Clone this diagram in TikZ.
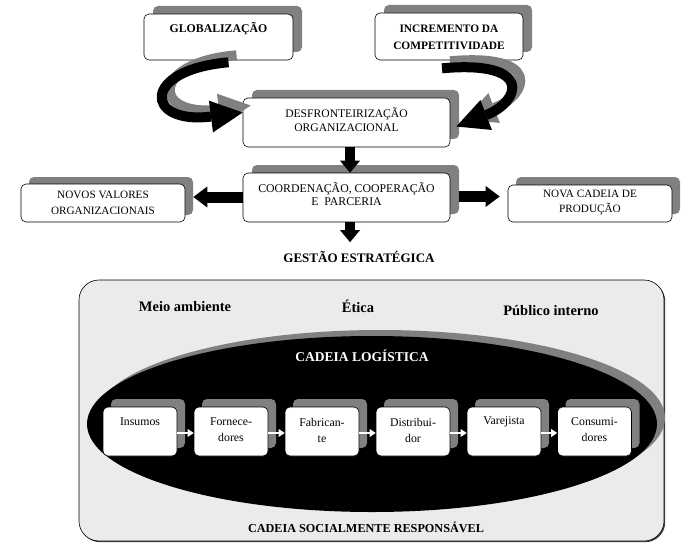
\documentclass[tikz,border=0pt]{standalone}
\usepackage{fontspec}
\setmainfont{Liberation Serif}
\usetikzlibrary{arrows.meta,shadows,calc,shapes.geometric}
\definecolor{shgray}{HTML}{808080}
\definecolor{panelgray}{HTML}{EBEBEB}
\begin{document}
\begin{tikzpicture}[x=1pt,y=-1pt,
  box/.style={draw=black, line width=0.6pt, rounded corners=5pt, fill=white, inner sep=0pt},
  topshadow/.style={drop shadow={shadow xshift=9pt, shadow yshift=8pt, fill=shgray, opacity=1}},
  chainshadow/.style={drop shadow={shadow xshift=8pt, shadow yshift=8pt, fill=shgray, opacity=1}},
  chainbox/.style={box, chainshadow, minimum width=74pt, minimum height=49pt},
  boldtitle/.style={font=\fontsize{11.8}{16}\selectfont\bfseries, align=center, inner sep=0pt},
  plaintxt/.style={font=\fontsize{11.6}{14}\selectfont, align=center, inner sep=0pt},
  smalltxt/.style={font=\fontsize{11.2}{15.5}\selectfont, align=center, inner sep=0pt},
  chaintxt/.style={font=\fontsize{11.8}{16}\selectfont, align=center, inner sep=0pt},
  blockarrow/.style={line width=10pt, -{Triangle[length=12pt,width=20pt,line width=0pt]}},
  sidearrow/.style={line width=11pt, -{Triangle[length=14pt,width=21pt,line width=0pt]}},
  curvearrow/.style={line width=10pt, -{Triangle[length=32pt,width=32pt,line width=0pt]}},
  whitearrow/.style={white, line width=2pt, -{Triangle[length=6pt,width=8pt,line width=0pt]}},
]
\useasboundingbox (0,0) rectangle (700,548);

% top boxes
\node[box, topshadow, minimum width=149pt, minimum height=46pt] (glob) at (218.5,37) {};
\node[boldtitle] (globt) at (218.5,29) {GLOBALIZAÇÃO};
\node[box, topshadow, minimum width=148pt, minimum height=47pt] (incr) at (449,36.5) {};
\node[boldtitle, font=\fontsize{11.4}{17}\selectfont\bfseries] (incrt) at (449,37) {INCREMENTO DA\\COMPETITIVIDADE};
\node[box, topshadow, minimum width=207pt, minimum height=49pt] (desf) at (346.5,122.5) {};
\node[plaintxt] (desft) at (346.5,120) {DESFRONTEIRIZAÇÃO\\ORGANIZACIONAL};

% curved arrows (shadow first)
\begin{scope}[transform canvas={xshift=8pt,yshift=7pt}]
\draw[shgray, curvearrow] ([xshift=10pt,yshift=-2pt]glob.south) .. controls (140,70) and (145,125) .. ([yshift=10pt]desf.west);
\draw[shgray, curvearrow] ([xshift=-7pt,yshift=-8pt]incr.south) .. controls (535,60) and (520,102) .. ([xshift=6pt,yshift=-4pt]desf.east);
\end{scope}
\draw[curvearrow] ([xshift=10pt,yshift=-2pt]glob.south) .. controls (140,70) and (145,125) .. ([yshift=10pt]desf.west);
\draw[curvearrow] ([xshift=-7pt,yshift=-8pt]incr.south) .. controls (535,60) and (520,102) .. ([xshift=6pt,yshift=-4pt]desf.east);

% middle row
\node[box, topshadow, minimum width=207pt, minimum height=49pt] (coord) at (346.5,197.5) {};
\node[plaintxt, font=\fontsize{11.8}{13.5}\selectfont] (coordt) at (346.5,194) {COORDENAÇÃO, COOPERAÇÃO\\E~~PARCERIA};
\node[box, drop shadow={shadow xshift=8pt, shadow yshift=7pt, fill=shgray, opacity=1}, minimum width=164pt, minimum height=38pt] (novos) at (103,203) {};
\node[smalltxt] (novost) at (103,203) {NOVOS VALORES\\ORGANIZACIONAIS};
\node[box, drop shadow={shadow xshift=8pt, shadow yshift=8pt, fill=shgray, opacity=1}, minimum width=164pt, minimum height=37pt] (nova) at (590,203.5) {};
\node[smalltxt] (novat) at (590,202.5) {NOVA CADEIA DE\\PRODUÇÃO};

\draw[blockarrow] ([xshift=3.5pt]desf.south) -- ([xshift=3.5pt]coord.north);
\draw[sidearrow] ([yshift=0.5pt]coord.west) -- ([xshift=8pt,yshift=0.5pt]novos.east |- coord.west);
\draw[sidearrow] ([xshift=9pt,yshift=1pt]coord.east) -- ([xshift=-8pt,yshift=1pt]nova.west |- coord.east);

\node[font=\fontsize{13}{15}\selectfont\bfseries, inner sep=0pt] (gestao) at (359,257) {GESTÃO ESTRATÉGICA};
\draw[blockarrow] ([xshift=3.5pt]coord.south) -- ([xshift=3.5pt,yshift=9pt]coord.south |- gestao.north);

% lower panel
\node[draw=black, line width=0.6pt, rounded corners=20pt, fill=panelgray, minimum width=585pt, minimum height=261pt,
      drop shadow={shadow xshift=1.2pt, shadow yshift=-1.2pt, fill=black!75, opacity=1}] (panel) at (371.5,410.5) {};
\node[font=\fontsize{14.5}{17}\selectfont\bfseries, inner sep=0pt] (meio) at (185,307) {Meio ambiente};
\node[font=\fontsize{14.5}{17}\selectfont\bfseries, inner sep=0pt] (etica) at (358,306) {Ética};
\node[font=\fontsize{14.5}{17}\selectfont\bfseries, inner sep=0pt] (publico) at (551,311) {Público interno};

\node[ellipse, fill=black, inner sep=0pt, minimum width=570pt, minimum height=176pt,
      drop shadow={shadow xshift=8pt, shadow yshift=6pt, fill=shgray, opacity=1}] (ell) at (372,424) {};
\node[white, font=\fontsize{13.5}{16}\selectfont\bfseries, inner sep=0pt] (logt) at (362,356) {CADEIA LOGÍSTICA};

% chain
\node[chainbox] (c1) at (140,431.5) {};
\node[chainbox] (c2) at (231,431.5) {};
\node[chainbox] (c3) at (322,431.5) {};
\node[chainbox] (c4) at (413,431.5) {};
\node[chainbox] (c5) at (504,431.5) {};
\node[chainbox] (c6) at (594.5,431.5) {};
\node[chaintxt] (t1) at (140,422) {Insumos};
\node[chaintxt] (t2) at (231,430) {Fornece-\\dores};
\node[chaintxt] (t3) at (322,430) {Fabrican-\\te};
\node[chaintxt] (t4) at (413,430) {Distribui-\\dor};
\node[chaintxt] (t5) at (504,422) {Varejista};
\node[chaintxt] (t6) at (594.5,430) {Consumi-\\dores};
\foreach \a/\b in {c1/c2,c2/c3,c3/c4,c4/c5,c5/c6}{
  \draw[whitearrow] ([yshift=-1.5pt]\a.east) -- ([yshift=-1.5pt]\b.west);
}

\node[font=\fontsize{12.2}{14}\selectfont\bfseries, inner sep=0pt] (socialt) at (366,527) {CADEIA SOCIALMENTE RESPONSÁVEL};
\end{tikzpicture}
\end{document}
